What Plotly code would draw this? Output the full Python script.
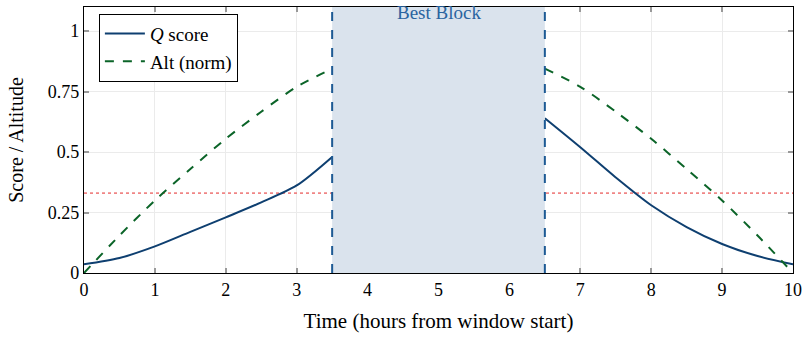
import plotly.graph_objects as go

t_left = [0, 0.5, 1, 1.5, 2, 2.5, 3, 3.5]
q_left = [0.036, 0.062, 0.11, 0.17, 0.23, 0.292, 0.362, 0.48]
t_right = [6.5, 7, 7.5, 8, 8.5, 9, 9.5, 10]
q_right = [0.64, 0.52, 0.395, 0.28, 0.19, 0.12, 0.07, 0.036]

alt_t_left = [0, 0.5, 1, 1.5, 2, 2.5, 3, 3.5]
alt_left = [0, 0.155, 0.30, 0.43, 0.555, 0.667, 0.77, 0.845]
alt_t_right = [6.5, 7, 7.5, 8, 8.5, 9, 9.5, 10]
alt_right = [0.845, 0.77, 0.667, 0.555, 0.43, 0.30, 0.155, 0]

threshold = 0.33
block_start, block_end = 3.5, 6.5
x_ticks = list(range(0, 11))
y_ticks = [0, 0.25, 0.5, 0.75, 1]
y_tick_labels = ["0", "0.25", "0.5", "0.75", "1"]

FONT = "Liberation Serif"
BLUE = "#0e3f70"
GREEN = "#0b6428"

fig = go.Figure()
fig.add_trace(go.Scatter(x=[0, 10], y=[threshold, threshold], mode="lines",
                         line=dict(color="#f08585", width=1.8, dash="dot"),
                         showlegend=False, hoverinfo="skip"))
fig.add_trace(go.Scatter(x=t_left + [None] + t_right, y=q_left + [None] + q_right,
                         mode="lines", name="<i>Q</i> score",
                         line=dict(color=BLUE, width=2, shape="spline", smoothing=0.8)))
fig.add_trace(go.Scatter(x=alt_t_left + [None] + alt_t_right, y=alt_left + [None] + alt_right,
                         mode="lines", name="Alt (norm)",
                         line=dict(color=GREEN, width=2, dash="dash", shape="spline", smoothing=0.8)))

fig.add_shape(type="rect", x0=block_start, x1=block_end, y0=0, y1=1.1,
              xref="x", yref="y", fillcolor="#dae3ed", line_width=0, layer="above")
for xv in (block_start, block_end):
    fig.add_shape(type="line", x0=xv, x1=xv, y0=0, y1=1.1, xref="x", yref="y",
                  line=dict(color="#1d5a94", width=2, dash="dash"), layer="above")
fig.add_annotation(x=(block_start + block_end) / 2, y=1.078, text="Best Block",
                   showarrow=False, yanchor="middle",
                   font=dict(family=FONT, size=19, color="#2a64a0"))

axis_common = dict(showline=True, linecolor="black", linewidth=1.2, mirror="ticks",
                   ticks="inside", ticklen=5, tickcolor="#999999", tickwidth=1.5,
                   showgrid=True, gridcolor="#ebebeb", gridwidth=1, zeroline=False,
                   automargin=False,
                   tickfont=dict(family=FONT, size=18, color="black"))

fig.update_xaxes(range=[0, 10], tickvals=x_ticks,
                 title=dict(text="Time (hours from window start)",
                            font=dict(family=FONT, size=21, color="black"), standoff=14),
                 **axis_common)
fig.update_yaxes(range=[0, 1.1], tickvals=y_ticks, ticktext=y_tick_labels,
                 title=dict(text="Score / Altitude",
                            font=dict(family=FONT, size=20, color="black"), standoff=18),
                 **axis_common)

fig.update_layout(
    width=803, height=338,
    margin=dict(l=84, r=10, t=7, b=65),
    plot_bgcolor="white", paper_bgcolor="white",
    font=dict(family=FONT, color="black"),
    legend=dict(x=0.021, y=0.975, xanchor="left", yanchor="top",
                bgcolor="white", bordercolor="black", borderwidth=1,
                font=dict(family=FONT, size=19, color="black"),
                itemwidth=40, tracegroupgap=0),
)

fig.write_html("out.html", config={"displayModeBar": False},
               post_script="document.body.style.margin='0';")
